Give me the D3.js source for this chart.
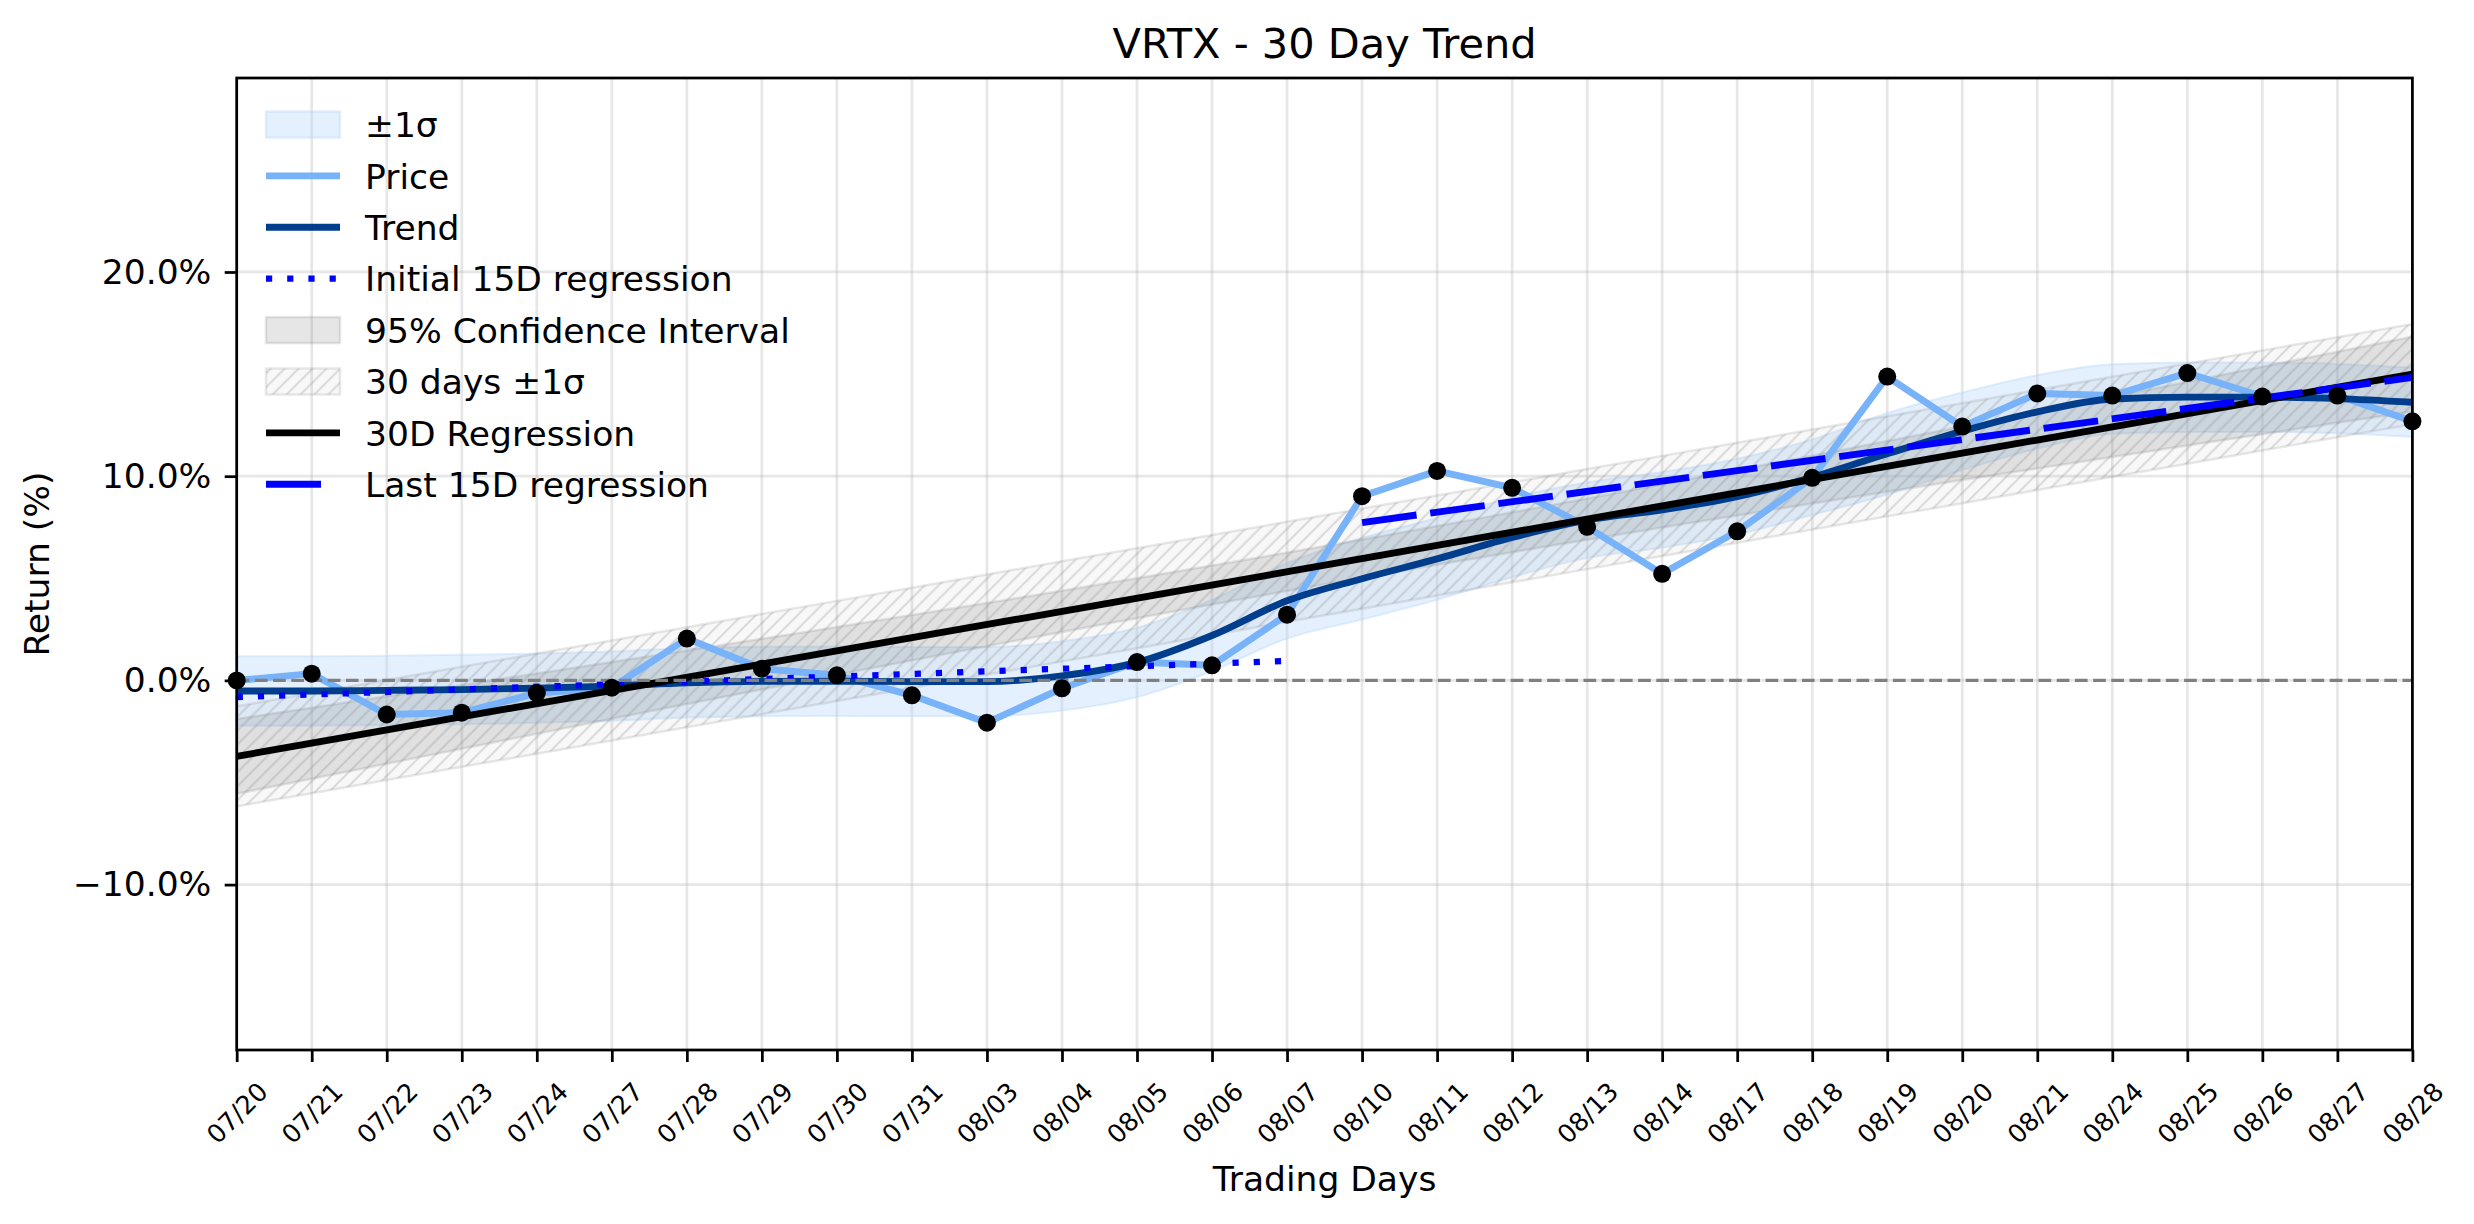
<!DOCTYPE html>
<html>
<head>
<meta charset="utf-8">
<title>VRTX - 30 Day Trend</title>
<script src="https://cdn.jsdelivr.net/npm/d3@7"></script>
<style>
  body { margin: 0; background: #fff; }
  text { font-family: "DejaVu Sans", sans-serif; fill: #000; }
</style>
</head>
<body>
<script>
// values (returns in %)
var dates = ["07/20", "07/21", "07/22", "07/23", "07/24", "07/27", "07/28", "07/29", "07/30", "07/31",
             "08/03", "08/04", "08/05", "08/06", "08/07", "08/10", "08/11", "08/12", "08/13", "08/14",
             "08/17", "08/18", "08/19", "08/20", "08/21", "08/24", "08/25", "08/26", "08/27", "08/28"];
var price = [0.00, 0.33, -1.67, -1.58, -0.62, -0.36, 2.05, 0.57, 0.25, -0.73,
             -2.07, -0.39, 0.90, 0.74, 3.22, 9.02, 10.26, 9.43, 7.52, 5.22,
             7.30, 9.92, 14.88, 12.43, 14.05, 13.95, 15.05, 13.90, 13.95, 12.69];
var trend = [-0.52, -0.52, -0.49, -0.45, -0.38, -0.28, -0.12, -0.05, -0.04, -0.06,
             -0.06, 0.22, 0.88, 2.20, 3.90, 4.98, 5.95, 7.00, 7.85, 8.35,
             9.00, 9.95, 11.10, 12.20, 13.15, 13.78, 13.87, 13.87, 13.80, 13.62];
var trendSigma = [1.70, 1.70, 1.70, 1.70, 1.70, 1.70, 1.70, 1.70, 1.70, 1.70,
                  1.70, 1.70, 1.70, 1.75, 1.85, 2.00, 2.00, 1.95, 1.85, 1.85,
                  1.85, 1.85, 2.00, 1.90, 1.80, 1.70, 1.70, 1.70, 1.70, 1.70];
var ciHalf = [1.83, 1.74, 1.65, 1.56, 1.48, 1.39, 1.31, 1.24, 1.17, 1.11,
              1.06, 1.01, 0.98, 0.95, 0.94, 0.94, 0.95, 0.98, 1.01, 1.06,
              1.11, 1.17, 1.24, 1.31, 1.39, 1.48, 1.56, 1.65, 1.74, 1.83];
var reg30 = [-3.72, 15.0];     // 30D regression at first / last day
var sigma30 = 2.45;            // 30 days +-1 sigma around the regression
var initReg = [-0.82, 0.95];   // first 15 days
var lastReg = [7.73, 14.84];   // last 15 days
var yTicks = [-10, 0, 10, 20];

var W = 2474, H = 1224;
var margin = {top: 78, right: 61.6, bottom: 174, left: 236.7};
var width = W - margin.left - margin.right;
var height = H - margin.top - margin.bottom;

var x = d3.scaleLinear().domain([0, dates.length - 1]).range([0, width]);
var y = d3.scaleLinear().domain([-18.1, 29.5]).range([height, 0]);
var reg = d3.scaleLinear().domain([0, dates.length - 1]).range(reg30);
var idx = d3.range(dates.length);

var svg = d3.select("body").append("svg")
    .attr("width", W)
    .attr("height", H);

var defs = svg.append("defs");
defs.append("clipPath").attr("id", "clip")
  .append("rect").attr("width", width).attr("height", height);

var hs = 13.9;
var pat = defs.append("pattern")
    .attr("id", "hatch")
    .attr("patternUnits", "userSpaceOnUse")
    .attr("width", hs).attr("height", hs);
pat.append("path")
    .attr("d", "M0," + hs + "L" + hs + ",0M-4,4L4,-4M" + (hs - 4) + "," + (hs + 4) + "L" + (hs + 4) + "," + (hs - 4))
    .attr("stroke", "#808080")
    .attr("stroke-opacity", 0.26)
    .attr("stroke-width", 2);

var g = svg.append("g")
    .attr("transform", "translate(" + margin.left + "," + margin.top + ")");

// grid
g.append("g").selectAll("line")
  .data(idx).enter().append("line")
    .attr("x1", function(i) { return x(i); })
    .attr("x2", function(i) { return x(i); })
    .attr("y1", 0).attr("y2", height)
    .attr("stroke", "#b0b0b0").attr("stroke-opacity", 0.3).attr("stroke-width", 2.75);
g.append("g").selectAll("line")
  .data(yTicks).enter().append("line")
    .attr("x1", 0).attr("x2", width)
    .attr("y1", function(d) { return y(d); })
    .attr("y2", function(d) { return y(d); })
    .attr("stroke", "#b0b0b0").attr("stroke-opacity", 0.3).attr("stroke-width", 2.75);

var plot = g.append("g").attr("clip-path", "url(#clip)");

// +-1 sigma band around trend
var sigArea = d3.area()
    .x(function(i) { return x(i); })
    .y0(function(i) { return y(trend[i] - trendSigma[i]); })
    .y1(function(i) { return y(trend[i] + trendSigma[i]); })
    .curve(d3.curveMonotoneX);
plot.append("path").datum(idx)
    .attr("d", sigArea)
    .attr("fill", "#b3d4fa").attr("fill-opacity", 0.35)
    .attr("stroke", "#b3d4fa").attr("stroke-opacity", 0.35).attr("stroke-width", 2);

// 95% confidence interval
var ciArea = d3.area()
    .x(function(i) { return x(i); })
    .y0(function(i) { return y(reg(i) - ciHalf[i]); })
    .y1(function(i) { return y(reg(i) + ciHalf[i]); })
    .curve(d3.curveMonotoneX);
plot.append("path").datum(idx)
    .attr("d", ciArea)
    .attr("fill", "#808080").attr("fill-opacity", 0.2)
    .attr("stroke", "#808080").attr("stroke-opacity", 0.2).attr("stroke-width", 2.5);

// 30 days +-1 sigma (hatched)
var hatchArea = d3.area()
    .x(function(i) { return x(i); })
    .y0(function(i) { return y(reg(i) - sigma30); })
    .y1(function(i) { return y(reg(i) + sigma30); });
plot.append("path").datum(idx)
    .attr("d", hatchArea)
    .attr("fill", "#808080").attr("fill-opacity", 0.06)
    .attr("stroke", "#808080").attr("stroke-opacity", 0.18).attr("stroke-width", 2.5);
plot.append("path").datum(idx)
    .attr("d", hatchArea)
    .attr("fill", "url(#hatch)");

var line = d3.line()
    .x(function(d) { return x(d[0]); })
    .y(function(d) { return y(d[1]); });

// price
plot.append("path")
    .datum(idx.map(function(i) { return [i, price[i]]; }))
    .attr("d", line)
    .attr("fill", "none").attr("stroke", "#78b3fa").attr("stroke-width", 6.9)
    .attr("stroke-linejoin", "round");

// trend
plot.append("path")
    .datum(idx.map(function(i) { return [i, trend[i]]; }))
    .attr("d", line.curve(d3.curveMonotoneX))
    .attr("fill", "none").attr("stroke", "#003d8c").attr("stroke-width", 6.9);
line.curve(d3.curveLinear);

// initial 15D regression
plot.append("path")
    .datum([[0, initReg[0]], [14, initReg[1]]])
    .attr("d", line)
    .attr("fill", "none").attr("stroke", "#0000ff").attr("stroke-width", 6.2)
    .attr("stroke-dasharray", "6.2,15");

// 30D regression
plot.append("path")
    .datum([[0, reg30[0]], [dates.length - 1, reg30[1]]])
    .attr("d", line)
    .attr("fill", "none").attr("stroke", "#000").attr("stroke-width", 6.9);

// last 15D regression
plot.append("path")
    .datum([[15, lastReg[0]], [dates.length - 1, lastReg[1]]])
    .attr("d", line)
    .attr("fill", "none").attr("stroke", "#0000ff").attr("stroke-width", 6.9)
    .attr("stroke-dasharray", "55,13.8");

// zero line
plot.append("line")
    .attr("x1", 0).attr("x2", width)
    .attr("y1", y(0)).attr("y2", y(0))
    .attr("stroke", "#808080").attr("stroke-width", 3.4)
    .attr("stroke-dasharray", "12.7,5.5");

// price dots
g.append("g").selectAll("circle")
  .data(idx).enter().append("circle")
    .attr("cx", function(i) { return x(i); })
    .attr("cy", function(i) { return y(price[i]); })
    .attr("r", 9)
    .attr("fill", "#000");

// axes
var fmt = d3.format(".1f");
var xAxis = g.append("g")
    .attr("transform", "translate(0," + height + ")")
    .call(d3.axisBottom(x).tickValues(idx).tickFormat(function(i) { return dates[i]; }).tickSize(12));
xAxis.select(".domain").remove();
xAxis.selectAll(".tick line").attr("stroke-width", 2.75);
xAxis.selectAll(".tick text")
    .attr("x", 0).attr("y", 0).attr("dy", null)
    .attr("text-anchor", "middle")
    .attr("dominant-baseline", "central")
    .attr("font-family", "DejaVu Sans")
    .attr("font-size", 25.5)
    .attr("transform", "translate(0,63) rotate(-45)");

var yAxis = g.append("g")
    .call(d3.axisLeft(y).tickValues(yTicks).tickFormat(function(d) { return fmt(d) + "%"; }).tickSize(12).tickPadding(13.3));
yAxis.select(".domain").remove();
yAxis.selectAll(".tick line").attr("stroke-width", 2.75);
yAxis.selectAll(".tick text")
    .attr("font-family", "DejaVu Sans")
    .attr("font-size", 34.5);

// frame
g.append("rect")
    .attr("width", width).attr("height", height)
    .attr("fill", "none").attr("stroke", "#000").attr("stroke-width", 2.75);

// title and labels
svg.append("text")
    .attr("x", margin.left + width / 2).attr("y", 58)
    .attr("text-anchor", "middle")
    .attr("font-size", 41.5)
    .text("VRTX - 30 Day Trend");
svg.append("text")
    .attr("x", margin.left + width / 2).attr("y", 1191)
    .attr("text-anchor", "middle")
    .attr("font-size", 34.5)
    .text("Trading Days");
svg.append("text")
    .attr("transform", "translate(49," + (margin.top + height / 2) + ") rotate(-90)")
    .attr("text-anchor", "middle")
    .attr("font-size", 34.5)
    .text("Return (%)");

// legend
var legendItems = [
  {label: "\u00b11\u03c3", kind: "sigma"},
  {label: "Price", kind: "line", color: "#78b3fa", w: 6.9},
  {label: "Trend", kind: "line", color: "#003d8c", w: 6.9},
  {label: "Initial 15D regression", kind: "line", color: "#0000ff", w: 6.2, dash: "6.2,15"},
  {label: "95% Confidence Interval", kind: "ci"},
  {label: "30 days \u00b11\u03c3", kind: "hatch"},
  {label: "30D Regression", kind: "line", color: "#000", w: 6.9},
  {label: "Last 15D regression", kind: "line", color: "#0000ff", w: 6.9, dash: "55,13.8", end: 321}
];
var legend = svg.append("g");
var lx0 = 266, lx1 = 340, ly0 = 124.5, lstep = 51.4;
legendItems.forEach(function(d, k) {
  var cy = ly0 + k * lstep;
  if (d.kind === "line") {
    legend.append("line")
      .attr("x1", lx0).attr("x2", d.end || lx1).attr("y1", cy).attr("y2", cy)
      .attr("stroke", d.color).attr("stroke-width", d.w)
      .attr("stroke-dasharray", d.dash || null);
  } else {
    var r = legend.append("rect")
      .attr("x", lx0).attr("y", cy - 13).attr("width", lx1 - lx0).attr("height", 26)
      .attr("stroke-width", 2.5);
    if (d.kind === "sigma") {
      r.attr("fill", "#b3d4fa").attr("fill-opacity", 0.35)
       .attr("stroke", "#b3d4fa").attr("stroke-opacity", 0.35);
    } else if (d.kind === "ci") {
      r.attr("fill", "#808080").attr("fill-opacity", 0.2)
       .attr("stroke", "#808080").attr("stroke-opacity", 0.2);
    } else {
      r.attr("fill", "#808080").attr("fill-opacity", 0.06)
       .attr("stroke", "#808080").attr("stroke-opacity", 0.18);
      legend.append("rect")
        .attr("x", lx0).attr("y", cy - 13).attr("width", lx1 - lx0).attr("height", 26)
        .attr("fill", "url(#hatch)");
    }
  }
  legend.append("text")
    .attr("x", 365).attr("y", cy + 12.6)
    .attr("font-size", 34.5)
    .text(d.label);
});
</script>
</body>
</html>
